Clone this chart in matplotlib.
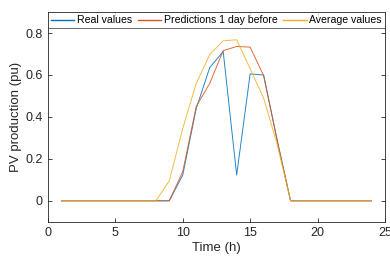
import matplotlib
matplotlib.use("Agg")
import matplotlib.pyplot as plt
from matplotlib.ticker import FuncFormatter

hours = list(range(1, 25))
real_values = [0, 0, 0, 0, 0, 0, 0, 0, 0, 0.123, 0.44, 0.635, 0.712, 0.123, 0.605, 0.60,
               0.29, 0, 0, 0, 0, 0, 0, 0]
pred_values = [0, 0, 0, 0, 0, 0, 0, 0, 0, 0.139, 0.45, 0.56, 0.716, 0.736, 0.733, 0.597,
               0.29, 0, 0, 0, 0, 0, 0, 0]
avg_values = [0, 0, 0, 0, 0, 0, 0, 0, 0.095, 0.345, 0.56, 0.697, 0.763, 0.768, 0.63, 0.49,
              0.27, 0, 0, 0, 0, 0, 0, 0]
labels = ["Real values", "Predictions 1 day before", "Average values"]
colors = ["#0072BD", "#D95319", "#EDB120"]

plt.rcParams['font.family'] = ['Liberation Sans', 'DejaVu Sans']

fig = plt.figure(figsize=(3.9, 2.57), dpi=100)
ax = fig.add_axes([0.123, 0.137, 0.864, 0.816])
for vals, lab, c in zip([real_values, pred_values, avg_values], labels, colors):
    ax.plot(hours, vals, color=c, lw=0.7, label=lab, alpha=0.85)

ax.set_xlim(0, 25)
ax.set_ylim(-0.1, 0.9)
ax.set_xticks([0, 5, 10, 15, 20, 25])
ax.set_yticks([0, 0.2, 0.4, 0.6, 0.8])
ax.yaxis.set_major_formatter(FuncFormatter(lambda v, p: "%g" % round(v, 2)))
ax.tick_params(direction='in', top=True, right=True, length=3, width=0.6,
               labelsize=9, colors='#262626', pad=4)
for s in ax.spines.values():
    s.set_linewidth(0.6)
    s.set_color('#262626')
ax.set_xlabel("Time (h)", fontsize=9.5, color='#262626', labelpad=2)
ax.set_ylabel("PV production (pu)", fontsize=9.5, color='#262626', labelpad=2)

leg = ax.legend(loc='upper left', bbox_to_anchor=(0, 1, 1, 0), mode='expand', ncol=3,
                borderaxespad=0, fontsize=7.6, frameon=True, fancybox=False,
                handlelength=2.2, handletextpad=0.25, columnspacing=0.4,
                borderpad=0.3)
leg.get_frame().set_edgecolor('#262626')
leg.get_frame().set_linewidth(0.6)
for h in leg.get_lines():
    h.set_linewidth(1.0)
    h.set_alpha(1)

fig.savefig("out.png", dpi=100)
